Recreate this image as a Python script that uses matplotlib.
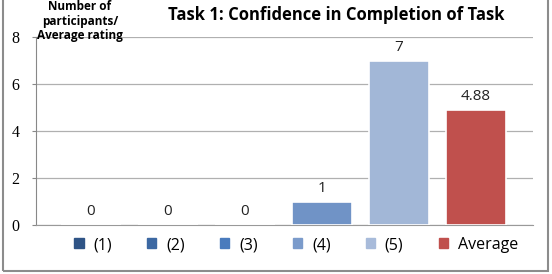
import numpy as np
import matplotlib.pyplot as plt
from matplotlib.patches import Rectangle

series = ['(1)', '(2)', '(3)', '(4)', '(5)', 'Average']
values = [0, 0, 0, 1, 7, 4.88]
labels = ['0', '0', '0', '1', '7', '4.88']
colors = ['#2c4d75', '#3a64a0', '#4a7bbb', '#7093c6', '#a2b7d7', '#c0504d']
legend_colors = ['#2f5486', '#3c68a2', '#4a7bbd', '#7b9bcb', '#a8bbda', '#c0504d']

fig = plt.figure(figsize=(5.52, 2.74), dpi=100)
ax = fig.add_axes([36/552, 1-225/274, (533-36)/552, (225-37)/274])

x = np.arange(len(series))
bars = ax.bar(x, values, width=0.79, color=colors, edgecolor='white', linewidth=1.2, zorder=3)

# data labels above bars
for xi, v, lab in zip(x, values, labels):
    ax.text(xi, v + 0.25, lab, ha='center', va='bottom', fontsize=11,
            family='Open Sans', color='#222222')

ax.set_xlim(-0.714, 5.74)
ax.set_ylim(0, 8)
ax.set_yticks([0, 2, 4, 6, 8])
ax.set_yticklabels(['0', '2', '4', '6', '8'], family='Liberation Serif', fontsize=11.5)
ax.tick_params(axis='y', length=3, color='#888888', pad=9)
ax.set_xticks([])
ax.grid(axis='y', color='#b0b0b0', lw=0.9, zorder=0)
for s in ['top', 'right']:
    ax.spines[s].set_visible(False)
ax.spines['left'].set_color('#888888')
ax.spines['bottom'].set_color('#999999')

fig.text(80/552, 1-21/274, 'Number of\nparticipants/\nAverage rating', ha='center', va='center',
         fontsize=8.5, fontweight='bold', family='Open Sans', linespacing=1.1)
fig.text(336/552, 1-15/274, 'Task 1: Confidence in Completion of Task', ha='center', va='center',
         fontsize=12, fontweight='bold', family='Open Sans')

handles = [Rectangle((0, 0), 1, 1, color=c) for c in legend_colors]
fig.legend(handles, series, loc='center', bbox_to_anchor=(296/552, 1-245/274), ncol=6,
           frameon=False, handlelength=0.6, handleheight=0.6,
           columnspacing=2.2, handletextpad=0.6, prop={'family': 'Open Sans', 'size': 11.5})

fig.patches.append(Rectangle((3/552, 3/274), 545/552, 1.0, transform=fig.transFigure,
                             fill=False, edgecolor='#8c8c8c', lw=1.5))

fig.savefig('out.png', dpi=100)
